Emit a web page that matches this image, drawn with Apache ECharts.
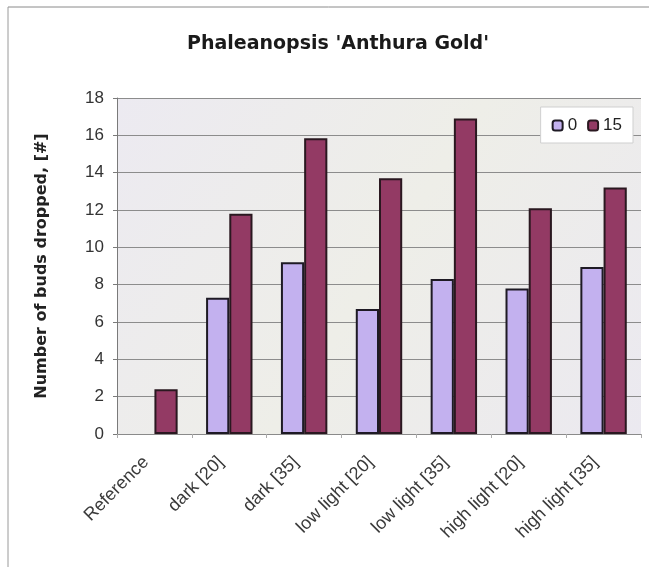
<!DOCTYPE html>
<html>
<head>
<meta charset="utf-8">
<script src="https://cdn.jsdelivr.net/npm/echarts@6/dist/echarts.min.js"></script>
<style>
html,body{margin:0;padding:0;background:#fff;}
#chart{width:649px;height:567px;}
</style>
</head>
<body>
<div id="chart"></div>
<script>
// Bud drop per treatment, two temperature series
const categories = ['Reference', 'dark [20]', 'dark [35]', 'low light [20]', 'low light [35]', 'high light [20]', 'high light [35]'];
const series0 = [null, 7.3, 9.2, 6.7, 8.3, 7.8, 8.95];
const series15 = [2.4, 11.8, 15.85, 13.7, 16.9, 12.1, 13.2];
const seriesNames = ['0', '15'];
const yTicks = [0, 2, 4, 6, 8, 10, 12, 14, 16, 18];

const chart = echarts.init(document.getElementById('chart'), null, {renderer: 'canvas'});
const font = '"Liberation Sans", Arial, sans-serif';
const wideFont = '"DejaVu Sans", "Liberation Sans", sans-serif';

chart.setOption({
  animation: false,
  backgroundColor: '#ffffff',
  title: {
    text: "Phaleanopsis 'Anthura Gold'",
    left: 182,
    top: 30,
    textStyle: {fontFamily: wideFont, fontSize: 19, fontWeight: 'bold', color: '#1a1a1a'}
  },
  graphic: [
    {type: 'line', shape: {x1: 8, y1: 7, x2: 649, y2: 7}, style: {stroke: '#8a8a8a', lineWidth: 1}},
    {type: 'line', shape: {x1: 8, y1: 7, x2: 8, y2: 567}, style: {stroke: '#9a9a9a', lineWidth: 1}}
  ],
  legend: {
    data: seriesNames,
    top: 107,
    right: 16,
    itemWidth: 10,
    itemHeight: 10,
    itemGap: 10,
    padding: [10, 11, 9, 11],
    backgroundColor: '#ffffff',
    borderColor: '#cfcfcf',
    borderWidth: 1,
    textStyle: {fontFamily: font, fontSize: 17, color: '#222'}
  },
  grid: {
    left: 117, right: 8, top: 98, bottom: 133,
    show: true,
    backgroundColor: {
      type: 'linear', x: 0, y: 0, x2: 1, y2: 1,
      colorStops: [
        {offset: 0, color: '#eceaf1'},
        {offset: 0.5, color: '#eeeee8'},
        {offset: 1, color: '#ebe9f0'}
      ]
    },
    borderWidth: 0
  },
  xAxis: {
    type: 'category',
    data: categories,
    axisLine: {show: true, lineStyle: {color: '#8a8a8a', width: 1}},
    axisTick: {show: true, alignWithLabel: false, length: 4, lineStyle: {color: '#aaa'}},
    axisLabel: {
      rotate: 45, margin: 17, padding: [0, 12, 0, 0],
      fontFamily: font, fontSize: 18, color: '#3a3a3a', interval: 0
    }
  },
  yAxis: {
    type: 'value',
    min: 0, max: 18, interval: 2,
    name: 'Number of buds dropped, [#]',
    nameLocation: 'middle',
    nameGap: 67,
    nameTextStyle: {fontFamily: wideFont, fontSize: 16, fontWeight: 'bold', color: '#222'},
    axisLine: {show: true, lineStyle: {color: '#7a7a7a', width: 1}},
    axisTick: {show: true, length: 4, lineStyle: {color: '#7a7a7a'}},
    axisLabel: {
      margin: 13, fontFamily: font, fontSize: 17, color: '#333',
      formatter: v => yTicks.includes(v) ? String(v) : ''
    },
    splitLine: {show: true, lineStyle: {color: '#8c8c8c', width: 1}}
  },
  series: [
    {
      name: seriesNames[0],
      type: 'bar',
      data: series0,
      barGap: '0%',
      barCategoryGap: '38%',
      itemStyle: {color: '#c3b1ef', borderColor: '#1e1a24', borderWidth: 2}
    },
    {
      name: seriesNames[1],
      type: 'bar',
      data: series15,
      barGap: '0%',
      barCategoryGap: '38%',
      itemStyle: {color: '#933a64', borderColor: '#2a1820', borderWidth: 2}
    }
  ]
});
</script>
</body>
</html>
